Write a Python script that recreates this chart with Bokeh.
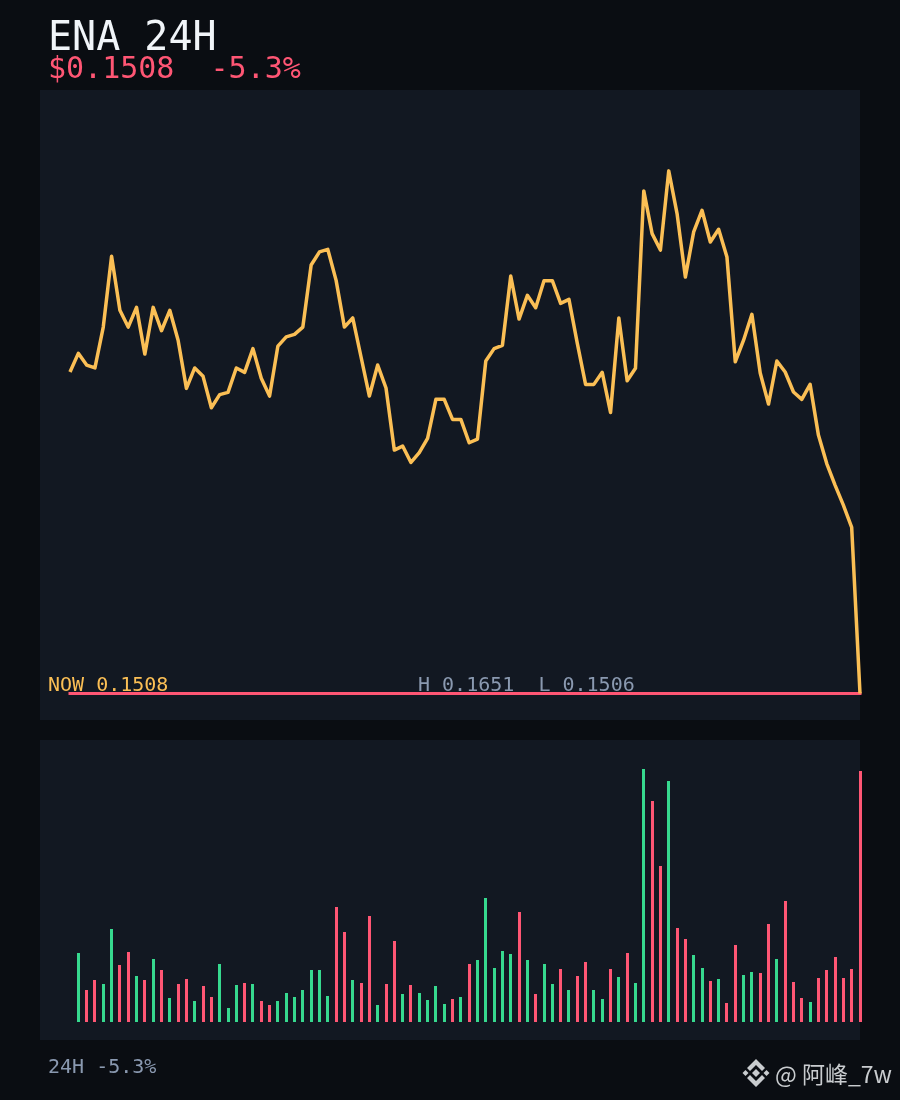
import numpy as np
from bokeh.embed import file_html
from bokeh.models import Range1d
from bokeh.plotting import figure
from bokeh.resources import INLINE
from bokeh.core.properties import value

TITLE = "ENA 24H"
SUBTITLE = "$0.1508\u00a0\u00a0-5.3%"
NOW_LABEL = "NOW 0.1508"
HL_LABEL = "H 0.1651\u00a0\u00a0L 0.1506"
FOOT_LABEL = "24H -5.3%"
WATERMARK = "@ 阿峰_7w"
NOW = 0.1508

prices = [
    .15961, .16012, .15980, .15972, .16084, .16278, .16130, .16084, .16138, .16010,
    .16138, .16074, .16130, .16048, .15916, .15972, .15949, .15863, .15899, .15905,
    .15972, .15960, .16025, .15944, .15895, .16032, .16057, .16064, .16084, .16254,
    .16290, .16297, .16212, .16084, .16109, .16002, .15895, .15980, .15917, .15747,
    .15758, .15713, .15740, .15779, .15886, .15886, .15831, .15831, .15767, .15777,
    .15991, .16025, .16034, .16224, .16106, .16171, .16137, .16211, .16211, .16149,
    .16160, .16040, .15927, .15927, .15960, .15850, .16109, .15937, .15971, .16457,
    .16340, .16295, .16512, .16395, .16221, .16345, .16404, .16317, .16352, .16276,
    .15989, .16048, .16119, .15958, .15873, .15991, .15961, .15906, .15886, .15927,
    .15788, .15710, .15651, .15596, .15535, .15080,
]
volumes = [
    69, 32, 42, 38, 93, 57, 70, 46, 42, 63, 52, 24, 38, 43, 21, 36, 25, 58, 14, 37,
    39, 38, 21, 17, 21, 29, 25, 32, 52, 52, 26, 115, 90, 42, 39, 106, 17, 38, 81, 28,
    37, 29, 22, 36, 18, 23, 25, 58, 62, 124, 54, 71, 68, 110, 62, 28, 58, 38, 53, 32,
    46, 60, 32, 23, 53, 45, 69, 39, 253, 221, 156, 241, 94, 83, 67, 54, 41, 43, 19, 77,
    47, 50, 49, 98, 63, 121, 40, 24, 20, 44, 52, 65, 44, 53, 251,
]
directions = list(
    "GRRGGRRGRG"
    "RGRRGRRGGG"
    "RGRRGGGGGG"
    "GRRGRRGRRG"
    "RGGGGRGRGG"
    "GGGRGRGGRG"
    "RRGGRGRGGR"
    "RGRRGGRGRR"
    "GGRRGRRRGR"
    "RRRRR"
)

BG, PANEL = "#0a0d12", "#121822"
RED, GREEN, AMBER = "#ff5674", "#36d98f", "#fbbf55"
WHITE, GREY = "#f1f5f9", "#8a99b0"
MONO = value("DejaVu Sans Mono")

W, H = 901, 1101
OFF = -0.5
X0, X1 = 70.0, 860.0
step = (X1 - X0) / (len(prices) - 1)
PX_PER_PRICE = 1 / 2.74e-5
NOW_Y, VOL_BASE = 693.5, 1022

p = figure(
    width=W, height=H, output_backend="svg", toolbar_location=None,
    x_range=Range1d(OFF, W + OFF), y_range=Range1d(H + OFF, OFF),
    x_axis_type=None, y_axis_type=None,
    background_fill_color=BG, border_fill_color=BG,
    outline_line_color=None, min_border=0,
)
p.grid.visible = False
p.styles = {"position": "fixed", "left": "-1px", "top": "-1px"}
p.extra_x_ranges = {"idx": Range1d((OFF - X0) / step, (W + OFF - X0) / step)}
p.extra_y_ranges = {
    "price": Range1d(NOW - (H + OFF - NOW_Y) / PX_PER_PRICE, NOW + (NOW_Y - OFF) / PX_PER_PRICE),
    "vol": Range1d(VOL_BASE - H - OFF, VOL_BASE - OFF),
}

# panels
p.patches([[40, 860, 860, 40], [40, 860, 860, 40]],
          [[90, 90, 720, 720], [740, 740, 1040, 1040]],
          fill_color=PANEL, line_color=None)

# header and labels (this renderer sets alphabetic text about 0.4 em low)
BASE_FIX = 0.4

def label(x, y, s, color, size, font=MONO):
    p.text(x=[x], y=[y - BASE_FIX * size], text=[s], text_color=color, text_font=font,
           text_font_size=f"{size}px", text_baseline="alphabetic", text_align="left")

label(48, 52, TITLE, WHITE, 40)
label(48, 79, SUBTITLE, RED, 30)
label(48, 692, NOW_LABEL, AMBER, 20)
label(418, 692, HL_LABEL, GREY, 20)
label(48, 1074, FOOT_LABEL, GREY, 20)

# now line
idx = np.arange(len(prices))
p.line([idx[0], idx[-1]], [NOW, NOW], x_range_name="idx", y_range_name="price",
       line_color=RED, line_width=3, line_cap="square")

# price line
p.line(idx, prices, x_range_name="idx", y_range_name="price",
       line_color=AMBER, line_width=3.5, line_join="round")

# volume bars, centred on whole-pixel columns
bar_idx = idx[1:]
centers = np.floor(X0 + bar_idx * step - 1) + 1.5
bar_colors = [GREEN if d == "G" else RED for d in directions]
p.segment(x0=centers, x1=centers, y0=np.zeros(len(volumes)), y1=volumes,
          y_range_name="vol", line_color=bar_colors, line_width=3, line_cap="butt")

# watermark
cx, cy = 756, 1073
LOGO = "#c9cccf"
shapes = [
    [(0, -4), (4, 0), (0, 4), (-4, 0)],
    [(-10.5, -3), (-7.5, 0), (-10.5, 3), (-13.5, 0)],
    [(10.5, -3), (13.5, 0), (10.5, 3), (7.5, 0)],
    [(0, -14), (9, -5), (6, -2), (0, -8), (-6, -2), (-9, -5)],
    [(0, 14), (9, 5), (6, 2), (0, 8), (-6, 2), (-9, 5)],
]
p.patches([[cx + a for a, _ in s] for s in shapes],
          [[cy + b for _, b in s] for s in shapes],
          fill_color=LOGO, line_color=None)
label(775, 1082, WATERMARK, LOGO, 23, value("Noto Sans CJK SC"))

open("out.html", "w").write(file_html(p, INLINE))
